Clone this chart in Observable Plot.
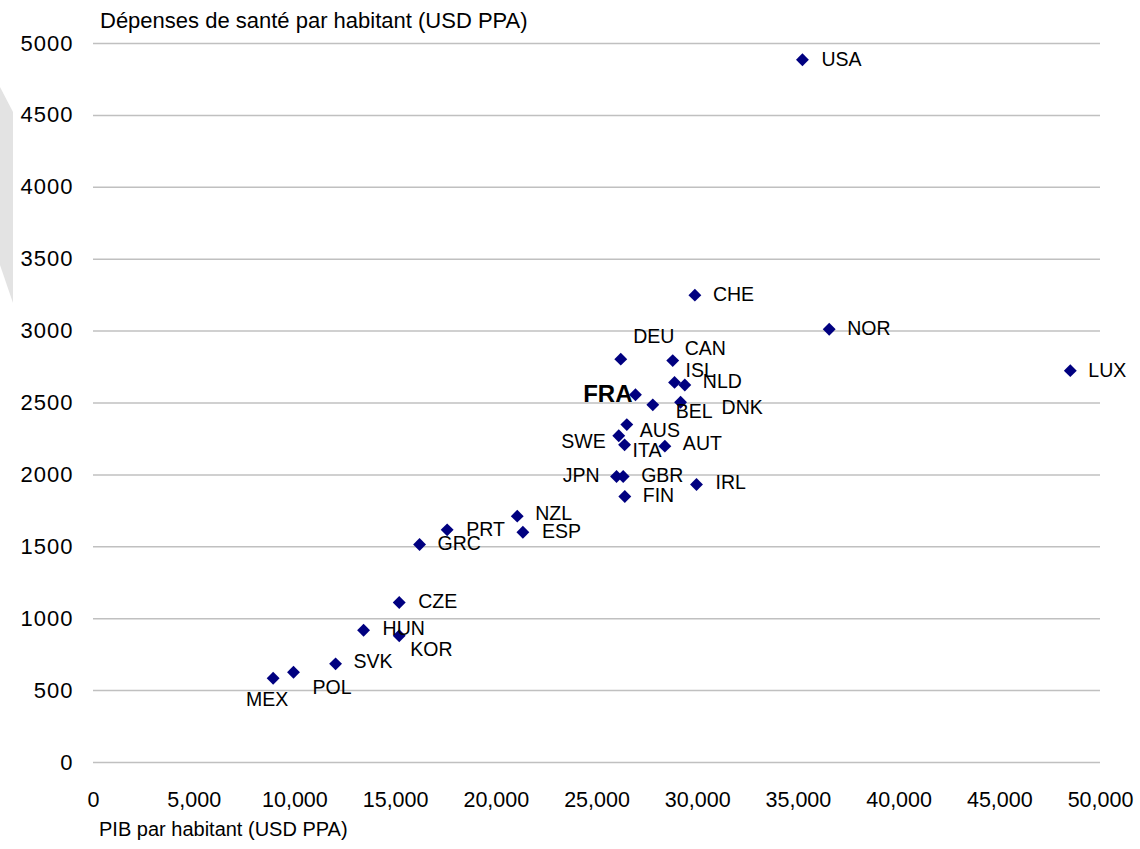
<!DOCTYPE html>
<html>
<head>
<meta charset="utf-8">
<script src="https://cdn.jsdelivr.net/npm/d3@7"></script>
<script src="https://cdn.jsdelivr.net/npm/@observablehq/plot@0.6"></script>
<style>
  html, body { margin: 0; padding: 0; background: #fff; }
  #wrap { position: relative; width: 1140px; height: 849px; overflow: hidden; font-family: "Liberation Sans", Arial, sans-serif; }
  #deco { position: absolute; left: 0; top: 0; }
  #chart { position: absolute; left: 0; top: 0; }
  .ttl { position: absolute; line-height: 1; color: #000; white-space: nowrap; }
  #chart g[aria-label="y-axis tick label"] text { letter-spacing: 1px; }
</style>
</head>
<body>
<div id="wrap">
  <svg id="deco" width="20" height="320"><polygon points="0,87 13,112 13,303 0,265" fill="#e3e3e3"/></svg>
  <div id="chart"></div>
  <div class="ttl" style="left:100px; top:10px; font-size:22px;">Dépenses de santé par habitant (USD PPA)</div>
  <div class="ttl" style="left:99px; top:819px; font-size:20px;">PIB par habitant (USD PPA)</div>
</div>
<script>
// Data
const countries = ["USA","NOR","LUX","CHE","DEU","CAN","ISL","NLD","FRA","BEL","DNK","AUS","SWE","ITA","AUT","JPN","GBR","IRL","FIN","NZL","PRT","ESP","GRC","CZE","HUN","KOR","SVK","POL","MEX"];
const gdpPerCapita = [35200,36530,48500,29860,26180,28760,28850,29360,26910,27770,29150,26480,26080,26370,28370,25970,26300,29940,26380,21040,17560,21320,16190,15180,13410,15180,12020,9930,8920];
const healthPerCapita = [4887,3013,2725,3250,2805,2795,2643,2625,2557,2487,2505,2350,2272,2209,2200,1989,1989,1933,1850,1713,1618,1601,1516,1113,920,881,686,628,586];
const xTicks = [0,5000,10000,15000,20000,25000,30000,35000,40000,45000,50000];
const yTicks = [0,500,1000,1500,2000,2500,3000,3500,4000,4500,5000];

// Label placement (anchor, dx, dy in px) — layout only
const labelPlacement = {
  USA:["start",19,0], NOR:["start",18,0], LUX:["start",18,0], CHE:["start",18,0],
  DEU:["middle",33,-22], CAN:["start",12,-12], ISL:["start",11,-12], NLD:["start",18,-3],
  FRA:["end",-3,0], BEL:["start",23,7], DNK:["start",41,5], AUS:["start",13,6],
  SWE:["end",-13,6], ITA:["start",8,6], AUT:["start",18,-2], JPN:["end",-17,-1],
  GBR:["start",18,-1], IRL:["start",19,-2], FIN:["start",18,-1], NZL:["start",18,-2],
  PRT:["start",19,0], ESP:["start",19,-1], GRC:["start",18,-1], CZE:["start",19,-1],
  HUN:["start",19,-1], KOR:["start",11,14], SVK:["start",18,-2], POL:["start",19,16],
  MEX:["middle",-6,22]
};

const rows = countries.map((c, i) => ({country: c, gdp: gdpPerCapita[i], health: healthPerCapita[i]}));

const labelMarks = rows.map(r => {
  const [anchor, dx, dy] = labelPlacement[r.country];
  const isFra = r.country === "FRA";
  return Plot.text([r], {
    x: "gdp", y: "health", text: "country",
    textAnchor: anchor, dx, dy,
    fontSize: isFra ? 24 : 19.5,
    fontWeight: isFra ? "bold" : "normal",
    fill: "#000"
  });
});

const chart = Plot.plot({
  width: 1140,
  height: 849,
  marginLeft: 93,
  marginRight: 40,
  marginTop: 43,
  marginBottom: 87,
  style: { fontFamily: '"Liberation Sans", Arial, sans-serif', fontSize: "20px", background: "transparent", color: "#000" },
  x: { domain: [0, 50000] },
  y: { domain: [0, 5000] },
  marks: [
    Plot.ruleY(yTicks, { stroke: "#c0c0c0", strokeWidth: 1.5 }),
    Plot.axisY({ ticks: yTicks, tickSize: 0, tickPadding: 20, label: null, fontSize: 22, tickFormat: d => String(d) }),
    Plot.axisX({ ticks: xTicks, tickSize: 0, tickPadding: 29, label: null, fontSize: 21.5, tickFormat: d3.format(",") }),
    Plot.dot(rows, { x: "gdp", y: "health", symbol: "diamond2", r: 5.8, fill: "#000080", stroke: "none" }),
    ...labelMarks
  ]
});
document.getElementById("chart").appendChild(chart);
</script>
</body>
</html>
